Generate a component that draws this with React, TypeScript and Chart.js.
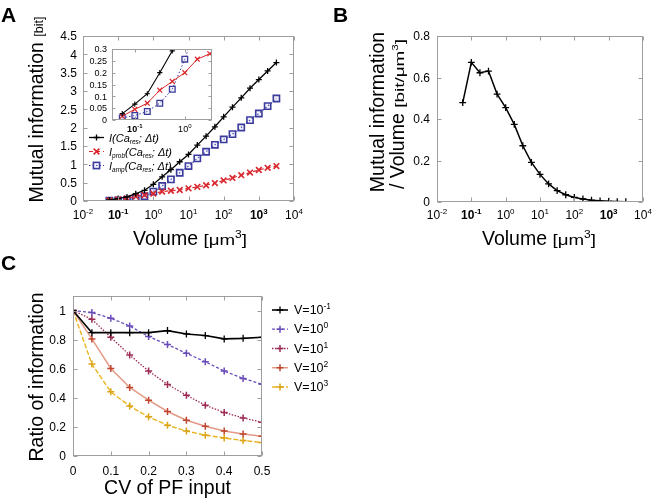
import React, { useEffect, useRef } from 'react';
import { Chart, registerables } from 'chart.js';

Chart.register(...registerables);

// ---------------- Data ----------------
const volumes = [0.0562, 0.1, 0.178, 0.316, 0.562, 1, 1.78, 3.16, 5.62, 10, 17.8, 31.6, 56.2, 100, 178, 316, 562, 1000, 1780, 3160];
const infoTotal = [0.027, 0.067, 0.111, 0.2, 0.292, 0.455, 0.66, 0.853, 1.07, 1.27, 1.524, 1.769, 2.024, 2.296, 2.559, 2.813, 3.076, 3.312, 3.547, 3.775];
const infoProb = [0.016, 0.045, 0.071, 0.126, 0.163, 0.2, 0.257, 0.28, 0.3, 0.345, 0.385, 0.43, 0.49, 0.56, 0.63, 0.705, 0.775, 0.845, 0.905, 0.953];
const infoAmp = [0.009, 0.019, 0.036, 0.071, 0.13, 0.257, 0.41, 0.59, 0.77, 0.953, 1.162, 1.343, 1.533, 1.679, 1.824, 2.005, 2.205, 2.386, 2.586, 2.796];
const infoPerVolume = [0.479, 0.673, 0.623, 0.631, 0.52, 0.455, 0.374, 0.271, 0.191, 0.133, 0.087, 0.055, 0.035, 0.022, 0.0145, 0.009, 0.0055, 0.0033, 0.002, 0.0012];

const cvInput = [0, 0.05, 0.1, 0.15, 0.2, 0.25, 0.3, 0.35, 0.4, 0.45, 0.5];
const ratioVm1 = [1, 0.848, 0.848, 0.848, 0.848, 0.862, 0.839, 0.828, 0.805, 0.809, 0.816];
const ratioV0 = [1, 0.986, 0.947, 0.894, 0.821, 0.766, 0.706, 0.648, 0.584, 0.533, 0.494];
const ratioV1 = [1, 0.94, 0.816, 0.694, 0.584, 0.492, 0.418, 0.349, 0.299, 0.262, 0.232];
const ratioV2 = [1, 0.805, 0.602, 0.471, 0.384, 0.306, 0.246, 0.205, 0.172, 0.152, 0.136];
const ratioV3 = [1, 0.632, 0.441, 0.343, 0.269, 0.211, 0.172, 0.143, 0.124, 0.106, 0.092];
const legendVolumeExponents = ['-1', '0', '1', '2', '3'];

const volumeTickValues = [0.01, 0.1, 1, 10, 100, 1000, 10000];
const volumeTickExponents = ['-2', '-1', '0', '1', '2', '3', '4'];
const volumeBoldExponents = ['-1', '3'];
const infoTickValues = [0, 0.5, 1, 1.5, 2, 2.5, 3, 3.5, 4, 4.5];
const insetXTickValues = [0.1, 1];
const insetXTickExponents = ['-1', '0'];
const insetYTickValues = [0, 0.05, 0.1, 0.15, 0.2, 0.25, 0.3];
const densityTickValues = [0, 0.2, 0.4, 0.6, 0.8];
const cvTickValues = [0, 0.1, 0.2, 0.3, 0.4, 0.5];
const ratioTickValues = [0, 0.2, 0.4, 0.6, 0.8, 1];

// ---------------- Text helpers ----------------
const FONT = '"Liberation Sans", Arial, Helvetica, sans-serif';
type Run = { t: string; size: number; bold?: boolean; italic?: boolean; dy?: number; sx?: number };

function runFont(r: Run) {
  return `${r.italic ? 'italic ' : ''}${r.bold ? 'bold ' : ''}${r.size}px ${FONT}`;
}

function drawRuns(ctx: CanvasRenderingContext2D, runs: Run[], x: number, y: number, align: string = 'left', rotate = 0, color = '#000') {
  const widths = runs.map((r) => {
    ctx.font = runFont(r);
    return ctx.measureText(r.t).width * (r.sx ?? 1);
  });
  const total = widths.reduce((a, b) => a + b, 0);
  ctx.save();
  ctx.translate(x, y);
  if (rotate) ctx.rotate(rotate);
  ctx.fillStyle = color;
  ctx.textBaseline = 'alphabetic';
  ctx.textAlign = 'left';
  let cx = align === 'left' ? 0 : align === 'right' ? -total : -total / 2;
  runs.forEach((r, i) => {
    ctx.save();
    ctx.font = runFont(r);
    ctx.translate(cx, r.dy ?? 0);
    if (r.sx) ctx.scale(r.sx, 1);
    ctx.fillText(r.t, 0, 0);
    ctx.restore();
    cx += widths[i];
  });
  ctx.restore();
}

function drawMarker(ctx: CanvasRenderingContext2D, style: string, x: number, y: number, r: number, color: string, lw: number, fill?: string) {
  ctx.save();
  ctx.setLineDash([]);
  ctx.strokeStyle = color;
  ctx.lineWidth = lw;
  ctx.beginPath();
  if (style === 'cross') {
    ctx.moveTo(x - r, y); ctx.lineTo(x + r, y);
    ctx.moveTo(x, y - r); ctx.lineTo(x, y + r);
    ctx.stroke();
  } else if (style === 'crossRot') {
    const d = r * Math.SQRT1_2;
    ctx.moveTo(x - d, y - d); ctx.lineTo(x + d, y + d);
    ctx.moveTo(x - d, y + d); ctx.lineTo(x + d, y - d);
    ctx.stroke();
  } else if (style === 'rect') {
    const s = r * Math.SQRT1_2;
    if (fill) { ctx.fillStyle = fill; ctx.fillRect(x - s, y - s, 2 * s, 2 * s); }
    ctx.strokeRect(x - s, y - s, 2 * s, 2 * s);
  }
  ctx.restore();
}

const expLabel = (exp: string, size: number, bold: boolean): Run[] => [
  { t: '10', size, bold },
  { t: exp, size: Math.round(size * 0.68), bold, dy: -Math.round(size * 0.42) },
];

// ---------------- Decoration plugin ----------------
const decorPlugin = {
  id: 'decor',
  beforeDatasetsDraw(chart: any, _args: any, opts: any) {
    if (!opts || !opts.whiteArea) return;
    const a = chart.chartArea;
    const ctx = chart.ctx;
    ctx.save();
    ctx.fillStyle = '#fff';
    ctx.fillRect(a.left, a.top, a.right - a.left, a.bottom - a.top);
    ctx.restore();
  },
  afterDraw(chart: any, _args: any, opts: any) {
    if (!opts || !opts.origin) return;
    const ctx: CanvasRenderingContext2D = chart.ctx;
    const a = chart.chartArea;
    const xs = chart.scales.x;
    const ys = chart.scales.y;
    const [ox, oy] = opts.origin;
    const L = Math.round(a.left) + 0.5;
    const R = Math.round(a.right) - 0.5;
    const T = Math.round(a.top) + 0.5;
    const B = Math.round(a.bottom) - 0.5;
    const tl = opts.tickLen;
    ctx.save();
    ctx.strokeStyle = opts.frameColor;
    ctx.lineWidth = 1;
    ctx.setLineDash([]);
    ctx.strokeRect(L, T, R - L, B - T);
    ctx.beginPath();
    for (const t of opts.xTicks) {
      const px = Math.round(xs.getPixelForValue(t.value)) + 0.5;
      ctx.moveTo(px, B); ctx.lineTo(px, B - tl);
      ctx.moveTo(px, T); ctx.lineTo(px, T + tl);
    }
    for (const t of opts.yTicks) {
      const py = Math.round(ys.getPixelForValue(t.value)) + 0.5;
      ctx.moveTo(L, py); ctx.lineTo(L + tl, py);
      ctx.moveTo(R, py); ctx.lineTo(R - tl, py);
    }
    ctx.stroke();
    for (const t of opts.xTicks) {
      const px = xs.getPixelForValue(t.value);
      drawRuns(ctx, t.runs, px, a.bottom + opts.xLabelOffset, 'center');
    }
    for (const t of opts.yTicks) {
      const py = ys.getPixelForValue(t.value);
      drawRuns(ctx, t.runs, a.left - opts.yLabelGap, py + opts.yLabelShift, 'right');
    }
    for (const tx of opts.texts || []) {
      drawRuns(ctx, tx.runs, tx.x - ox, tx.y - oy, tx.align || 'center', tx.rotate || 0, '#000');
    }
    if (opts.legend) {
      const lg = opts.legend;
      lg.items.forEach((it: any, i: number) => {
        const ds = chart.data.datasets[it.dataset];
        const cy = lg.rows[i] - oy;
        const x0 = lg.sampleX - ox;
        ctx.save();
        ctx.strokeStyle = ds.borderColor;
        ctx.lineWidth = ds.borderWidth;
        ctx.setLineDash(ds.borderDash || []);
        ctx.beginPath();
        ctx.moveTo(x0, cy); ctx.lineTo(x0 + lg.sampleLen, cy);
        ctx.stroke();
        ctx.restore();
        drawMarker(ctx, ds.pointStyle, x0 + lg.sampleLen / 2, cy, ds.pointRadius, ds.pointBorderColor, ds.pointBorderWidth, ds.pointStyle === 'rect' ? ds.pointBackgroundColor : undefined);
        drawRuns(ctx, it.runs, lg.textX - ox, cy + lg.textShift, 'left');
      });
    }
    ctx.restore();
  },
};

function lineDs(xs: number[], ys: number[], o: any) {
  return {
    data: xs.map((x, i) => ({ x, y: ys[i] })),
    fill: false,
    tension: 0,
    borderColor: o.color,
    borderWidth: o.width ?? 1.3,
    borderDash: o.dash ?? [],
    pointStyle: o.point,
    pointRadius: o.radius ?? 3,
    pointHoverRadius: o.radius ?? 3,
    pointBorderColor: o.pointColor ?? o.color,
    pointBackgroundColor: o.pointFill ?? 'rgba(0,0,0,0)',
    pointBorderWidth: o.pointWidth ?? 1.3,
  };
}

function makeChart(canvas: HTMLCanvasElement, datasets: any[], scales: any, padding: any, decor: any) {
  return new Chart(canvas, {
    type: 'line',
    data: { datasets },
    options: {
      animation: false,
      responsive: false,
      devicePixelRatio: 1,
      events: [],
      layout: { padding },
      scales,
      plugins: { legend: { display: false }, tooltip: { enabled: false }, decor } as any,
    },
    plugins: [decorPlugin],
  } as any);
}

const numRuns = (v: number, size: number): Run[] => [{ t: String(v), size }];

const legendRuns = (sub: string | null): Run[] => {
  const runs: Run[] = [{ t: 'I', size: 11, italic: true }];
  if (sub) runs.push({ t: sub, size: 6.5, italic: true, dy: 2 });
  runs.push({ t: '(Ca', size: 11, italic: true }, { t: 'res', size: 6.5, italic: true, dy: 2 }, { t: '; Δt)', size: 11, italic: true });
  return runs;
};

export default function App() {
  const refA = useRef<HTMLCanvasElement>(null);
  const refInset = useRef<HTMLCanvasElement>(null);
  const refB = useRef<HTMLCanvasElement>(null);
  const refC = useRef<HTMLCanvasElement>(null);

  useEffect(() => {
    const charts: Chart[] = [];
    const volXTicks = (size: number) =>
      volumeTickValues.map((v, i) => ({ value: v, runs: expLabel(volumeTickExponents[i], size, volumeBoldExponents.includes(volumeTickExponents[i])) }));

    const blue = '#3b3b9d';
    const red = '#d9262c';
    const squareFill = 'rgba(190,190,235,0.18)';

    // ---- Panel A main ----
    charts.push(
      makeChart(
        refA.current!,
        [
          lineDs(volumes, infoTotal, { color: '#000', point: 'cross', radius: 3, width: 1.3 }),
          lineDs(volumes, infoProb, { color: red, point: 'crossRot', radius: 4, width: 1.2, dash: [4, 3], pointWidth: 1.6 }),
          lineDs(volumes, infoAmp, { color: blue, point: 'rect', radius: 4.4, width: 1.2, dash: [1.5, 2], pointWidth: 1.6, pointFill: squareFill }),
        ],
        {
          x: { type: 'logarithmic', min: 0.01, max: 10000, display: false },
          y: { type: 'linear', min: 0, max: 4.5, display: false },
        },
        { left: 83, top: 36, right: 36, bottom: 49 },
        {
          origin: [0, 0],
          frameColor: '#9e9e9e',
          tickLen: 4,
          xTicks: volXTicks(12),
          yTicks: infoTickValues.map((v) => ({ value: v, runs: numRuns(v, 12) })),
          xLabelOffset: 17.5,
          yLabelGap: 6,
          yLabelShift: 4.3,
          texts: [
            { runs: [{ t: 'A', size: 21, bold: true }], x: 1, y: 22, align: 'left' },
            { runs: [{ t: 'Mutual information ', size: 19.5 }, { t: '[bit]', size: 12.5 }], x: 43, y: 109.5, rotate: -Math.PI / 2 },
            {
              runs: [
                { t: 'Volume ', size: 19.5 },
                { t: '[μm', size: 15, sx: 1.25 },
                { t: '3', size: 10, dy: -7, sx: 1.2 },
                { t: ']', size: 15, sx: 1.25 },
              ],
              x: 190, y: 245,
            },
          ],
          legend: {
            sampleX: 89,
            sampleLen: 15,
            textX: 109,
            textShift: 4,
            rows: [137.5, 151.5, 165.5],
            items: [
              { dataset: 0, runs: legendRuns(null) },
              { dataset: 1, runs: legendRuns('prob') },
              { dataset: 2, runs: legendRuns('amp') },
            ],
          },
        }
      )
    );

    // ---- Panel A inset ----
    charts.push(
      makeChart(
        refInset.current!,
        [
          lineDs(volumes, infoTotal, { color: '#000', point: 'cross', radius: 2.6, width: 1.1, pointWidth: 1.1 }),
          lineDs(volumes, infoProb, { color: red, point: 'crossRot', radius: 3.4, width: 1, pointWidth: 1.2 }),
          lineDs(volumes, infoAmp, { color: blue, point: 'rect', radius: 4, width: 1, dash: [1.5, 2], pointWidth: 1.3, pointFill: squareFill }),
        ],
        {
          x: { type: 'logarithmic', min: 0.035, max: 3.5, display: false },
          y: { type: 'linear', min: 0, max: 0.3, display: false },
        },
        { left: 26, top: 9, right: 8, bottom: 16 },
        {
          origin: [86, 40],
          whiteArea: true,
          frameColor: '#9e9e9e',
          tickLen: 3,
          xTicks: insetXTickValues.map((v, i) => ({ value: v, runs: expLabel(insetXTickExponents[i], 9, volumeBoldExponents.includes(insetXTickExponents[i])) })),
          yTicks: insetYTickValues.map((v) => ({ value: v, runs: numRuns(v, 9) })),
          xLabelOffset: 11.5,
          yLabelGap: 5,
          yLabelShift: 3.2,
          texts: [],
        }
      )
    );

    // ---- Panel B ----
    charts.push(
      makeChart(
        refB.current!,
        [lineDs(volumes, infoPerVolume, { color: '#000', point: 'cross', radius: 3.4, width: 1.5, pointWidth: 1.3 })],
        {
          x: { type: 'logarithmic', min: 0.01, max: 10000, display: false },
          y: { type: 'linear', min: 0, max: 0.8, display: false },
        },
        { left: 107, top: 36, right: 14, bottom: 48 },
        {
          origin: [330, 0],
          frameColor: '#9e9e9e',
          tickLen: 4,
          xTicks: volXTicks(12),
          yTicks: densityTickValues.map((v) => ({ value: v, runs: numRuns(v, 12) })),
          xLabelOffset: 16.5,
          yLabelGap: 7,
          yLabelShift: 4.3,
          texts: [
            { runs: [{ t: 'B', size: 21, bold: true }], x: 333, y: 22, align: 'left' },
            { runs: [{ t: 'Mutual information', size: 19.5 }], x: 384, y: 112, rotate: -Math.PI / 2 },
            {
              runs: [
                { t: '/ Volume ', size: 19.5 },
                { t: '[bit/μm', size: 13.5, sx: 1.4 },
                { t: '3', size: 9, dy: -6.5, sx: 1.3 },
                { t: ']', size: 13.5, sx: 1.4 },
              ],
              x: 404, y: 114, rotate: -Math.PI / 2,
            },
            {
              runs: [
                { t: 'Volume ', size: 19.5 },
                { t: '[μm', size: 15, sx: 1.25 },
                { t: '3', size: 10, dy: -7, sx: 1.2 },
                { t: ']', size: 15, sx: 1.25 },
              ],
              x: 539, y: 245,
            },
          ],
        }
      )
    );

    // ---- Panel C ----
    const cColors = ['#000000', '#6a4cb8', '#9c2b56', '#e29a86', '#e8b520'];
    charts.push(
      makeChart(
        refC.current!,
        [
          lineDs(cvInput, ratioVm1, { color: cColors[0], point: 'cross', radius: 3.5, width: 1.6, pointWidth: 1.3 }),
          lineDs(cvInput, ratioV0, { color: cColors[1], point: 'cross', radius: 3.5, width: 1.3, dash: [3, 2], pointWidth: 1.5 }),
          lineDs(cvInput, ratioV1, { color: cColors[2], point: 'cross', radius: 3.5, width: 1.3, dash: [1.5, 1.5], pointWidth: 1.5 }),
          lineDs(cvInput, ratioV2, { color: cColors[3], point: 'cross', radius: 3.5, width: 1.5, pointColor: '#c0452f', pointWidth: 1.5 }),
          lineDs(cvInput, ratioV3, { color: cColors[4], point: 'cross', radius: 3.5, width: 1.4, dash: [5, 2], pointColor: '#dca417', pointWidth: 1.5 }),
        ],
        {
          x: { type: 'linear', min: 0, max: 0.5, display: false },
          y: { type: 'linear', min: 0, max: 1.1, display: false },
        },
        { left: 73, top: 46, right: 68, bottom: 44 },
        {
          origin: [0, 250],
          frameColor: '#9e9e9e',
          tickLen: 4,
          xTicks: cvTickValues.map((v) => ({ value: v, runs: numRuns(v, 12) })),
          yTicks: ratioTickValues.map((v) => ({ value: v, runs: numRuns(v, 12) })),
          xLabelOffset: 19,
          yLabelGap: 7,
          yLabelShift: 4.3,
          texts: [
            { runs: [{ t: 'C', size: 21, bold: true }], x: 1, y: 270, align: 'left' },
            { runs: [{ t: 'Ratio of information', size: 19.5 }], x: 43, y: 377, rotate: -Math.PI / 2 },
            { runs: [{ t: 'CV of PF input', size: 19.5 }], x: 167.5, y: 494 },
          ],
          legend: {
            sampleX: 272,
            sampleLen: 16,
            textX: 294,
            textShift: 4.2,
            rows: [310, 329.2, 348.5, 367.7, 387],
            items: legendVolumeExponents.map((e, i) => ({
              dataset: i,
              runs: [{ t: 'V=10', size: 12.5 }, { t: e, size: 8.5, dy: -5 }],
            })),
          },
        }
      )
    );

    return () => charts.forEach((c) => c.destroy());
  }, []);

  const cv = (left: number, top: number, w: number, h: number) => ({
    position: 'absolute' as const,
    left,
    top,
    width: w,
    height: h,
  });

  return (
    <div style={{ position: 'fixed', left: 0, top: 0, width: 657, height: 500, background: '#fff', overflow: 'hidden' }}>
      <canvas ref={refA} width={330} height={250} style={cv(0, 0, 330, 250)} />
      <canvas ref={refInset} width={134} height={96} style={cv(86, 40, 134, 96)} />
      <canvas ref={refB} width={327} height={250} style={cv(330, 0, 327, 250)} />
      <canvas ref={refC} width={330} height={250} style={cv(0, 250, 330, 250)} />
    </div>
  );
}
